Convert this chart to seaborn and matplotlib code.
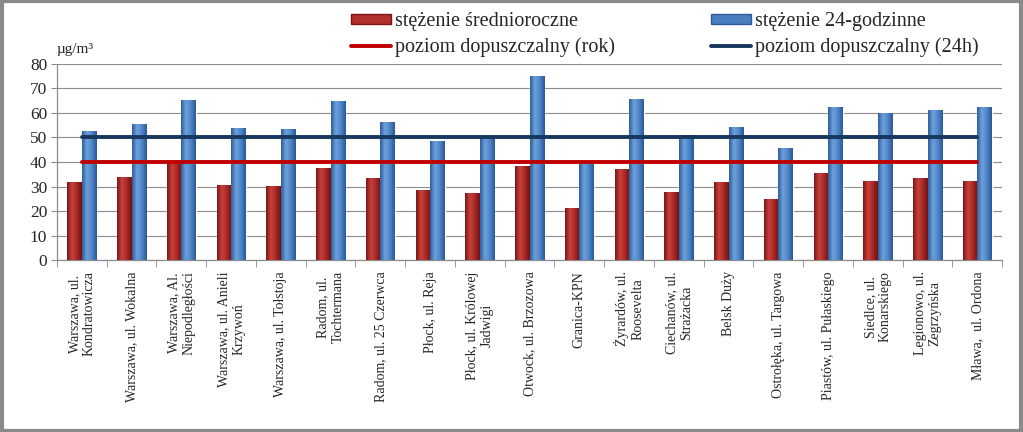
import numpy as np
import pandas as pd
import matplotlib
matplotlib.use("Agg")
import matplotlib.pyplot as plt
import seaborn as sns
from matplotlib.patches import Patch, Rectangle
from matplotlib.lines import Line2D
from matplotlib.colors import LinearSegmentedColormap

# stations (line breaks as in the original)
stations = [
    "Warszawa, ul.\nKondratowicza",
    "Warszawa, ul. Wokalna",
    "Warszawa, Al.\nNiepodległości",
    "Warszawa, ul. Anieli\nKrzywoń",
    "Warszawa, ul. Tołstoja",
    "Radom, ul.\nTochtermana",
    "Radom, ul. 25 Czerwca",
    "Płock, ul. Reja",
    "Płock, ul. Królowej\nJadwigi",
    "Otwock, ul. Brzozowa",
    "Granica-KPN",
    "Żyrardów, ul.\nRoosevelta",
    "Ciechanów, ul.\nStrażacka",
    "Belsk Duży",
    "Ostrołęka, ul. Targowa",
    "Piastów, ul. Pułaskiego",
    "Siedlce, ul.\nKonarskiego",
    "Legionowo, ul.\nZegrzyńska",
    "Mława,  ul. Ordona",
]
annual = [32.0, 33.8, 39.8, 30.6, 30.1, 37.4, 33.4, 28.7, 27.5, 38.2,
          21.3, 37.2, 27.9, 31.8, 24.9, 35.4, 32.4, 33.4, 32.4]
daily = [52.7, 55.5, 65.2, 54.0, 53.6, 64.8, 56.4, 48.4, 49.8, 75.2,
         39.9, 65.9, 50.9, 54.3, 45.9, 62.4, 59.9, 61.1, 62.4]
limit_year = 40
limit_24h = 50

lab_annual = "stężenie średnioroczne"
lab_daily = "stężenie 24-godzinne"
lab_ly = "poziom dopuszczalny (rok)"
lab_ld = "poziom dopuszczalny (24h)"

df = pd.DataFrame({
    "station": stations * 2,
    "value": annual + daily,
    "series": [lab_annual] * len(stations) + [lab_daily] * len(stations),
})

sns.set_style("white")
plt.rcParams["font.family"] = ["Liberation Serif", "DejaVu Serif"]

fig = plt.figure(figsize=(10.23, 4.32), dpi=100)
ax = fig.add_axes([0.0557, 0.398, 0.924, 0.454])

red_c = "#B0302D"
blue_c = "#4A7EC0"
ax = sns.barplot(data=df, x="station", y="value", hue="series",
                 palette={lab_annual: red_c, lab_daily: blue_c},
                 width=0.58, gap=0, legend=False, ax=ax, zorder=3)

# horizontal gradient on bars to mimic the 3D look
cm_red = LinearSegmentedColormap.from_list("r", ["#7A1614", "#C8413D", "#A82825", "#6E1412"])
cm_blue = LinearSegmentedColormap.from_list("b", ["#2E5C99", "#6FA2DC", "#4E86C9", "#2B5895"])
grad = np.linspace(0, 1, 64).reshape(1, -1)
n = len(stations)
for i, p in enumerate(list(ax.patches)):
    x0, y0 = p.get_x(), p.get_y()
    w, h = p.get_width(), p.get_height()
    if h <= 0:
        continue
    cmap = cm_red if i < n else cm_blue
    im = ax.imshow(grad, cmap=cmap, aspect="auto", extent=[x0, x0 + w, y0, y0 + h],
                   zorder=3.5, interpolation="bicubic")
    im.set_clip_path(p)

# limit lines from first to last station
xs = np.arange(n)
ax.plot(xs, [limit_year] * n, color="#C00000", lw=2.8, zorder=4)
ax.plot(xs, [limit_24h] * n, color="#17375E", lw=2.8, zorder=4)

ax.set_xlim(-0.5, n - 0.5)
ax.set_ylim(0, 80)
ax.set_yticks(range(0, 81, 10))
ax.set_xlabel("")
ax.set_ylabel("")
ax.yaxis.grid(True, color="#8C8C8C", lw=0.8, zorder=0)
ax.set_axisbelow(True)

ax.set_xticks(xs)
ax.set_xticklabels(stations, rotation=90, fontsize=10, multialignment="center")
ax.set_xticks(np.arange(-0.5, n, 1), minor=True)
ax.tick_params(axis="x", which="major", length=0, pad=8)
ax.tick_params(axis="x", which="minor", length=5, color="#8C8C8C", direction="out")
ax.tick_params(axis="y", length=4, color="#8C8C8C", labelsize=12.5, direction="out", pad=3)
ax.xaxis.set_ticks_position("bottom")
ax.yaxis.set_ticks_position("left")

for s in ["top", "right"]:
    ax.spines[s].set_visible(False)
for s in ["left", "bottom"]:
    ax.spines[s].set_color("#8C8C8C")
    ax.spines[s].set_linewidth(0.9)

ax.text(0.0, 1.04, "µg/m³", transform=ax.transAxes, fontsize=11, ha="left", va="bottom")

handles = [
    Patch(facecolor=red_c, edgecolor="#7A1614", label=lab_annual),
    Line2D([], [], color="#C00000", lw=2.8, label=lab_ly),
    Patch(facecolor=blue_c, edgecolor="#2E5C99", label=lab_daily),
    Line2D([], [], color="#17375E", lw=2.8, label=lab_ld),
]
fig.legend(handles=handles, ncol=2, loc="upper left", bbox_to_anchor=(0.335, 0.99),
           frameon=False, fontsize=14.5, handlelength=2.0, handleheight=0.35,
           handletextpad=0.2, columnspacing=4.75, labelspacing=0.3, borderaxespad=0)

# grey frame around the whole figure
fig.patches.append(Rectangle((0.002, 0.003), 0.996, 0.994, transform=fig.transFigure,
                             fill=False, edgecolor="#8A8A8A", lw=3))

fig.savefig("out.png", dpi=100)
